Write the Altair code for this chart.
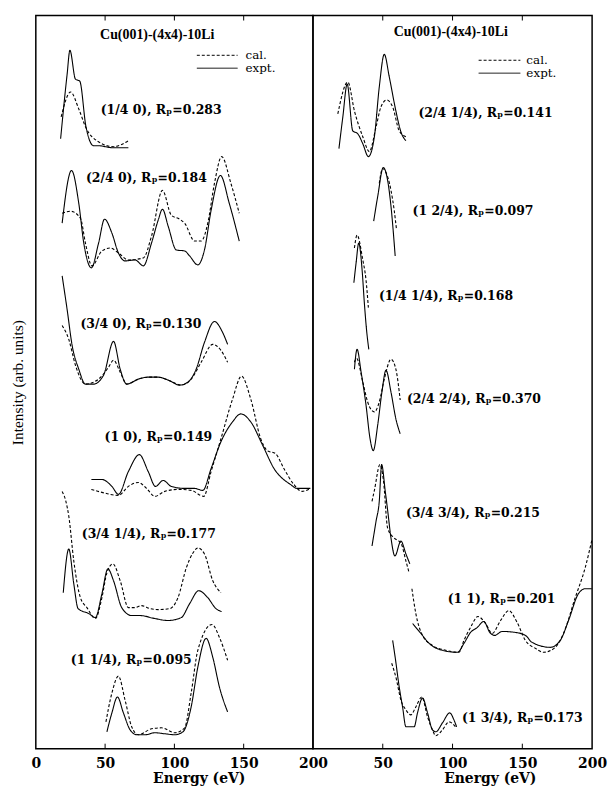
import altair as alt
import pandas as pd

# ---------------- data ----------------
# energies in eV, intensities in arbitrary units (curves offset vertically)
left_beams = ["(1/4 0)", "(2/4 0)", "(3/4 0)", "(1 0)", "(3/4 1/4)", "(1 1/4)"]
left_rp = [0.283, 0.184, 0.130, 0.149, 0.177, 0.095]
left_label_e = [46.8, 36.2, 32.2, 49.6, 33.2, 25.3]
left_label_i = [643, 574, 427, 314, 216, 89]

right_beams = ["(2/4 1/4)", "(1 2/4)", "(1/4 1/4)", "(2/4 2/4)", "(3/4 3/4)", "(1 1)", "(1 3/4)"]
right_rp = [0.141, 0.097, 0.168, 0.370, 0.215, 0.201, 0.173]
right_label_e = [75.6, 71.4, 47.3, 67.3, 66.6, 96.5, 106.7]
right_label_i = [640, 541, 456, 352, 237, 151, 31]

# ---- left panel curves ----
b14_0_expt_e = [17.9, 22.6, 24.6, 28.6, 31.7, 36.2, 41.7, 45.3, 54.9, 66.8]
b14_0_expt_i = [614, 679, 703, 674, 672, 626, 607, 607, 605, 605]
b14_0_cal_e = [18.3, 25.1, 31.0, 36.2, 40.5, 56.1, 66.8]
b14_0_cal_i = [636, 661, 644, 625, 616, 606, 612]

b24_0_expt_e = [19.0, 25.8, 31.0, 34.6, 40.1, 45.3, 49.6, 54.9, 59.6, 64.4, 71.6, 77.6, 83.5,
                88.3, 91.4, 95.5, 101.4, 107.4, 111.0, 116.9, 121.7, 126.5, 133.2, 139.6, 146.8]
b24_0_expt_i = [529, 582, 549, 509, 484, 509, 533, 519, 499, 491, 492, 486, 509,
                532, 543, 526, 502, 501, 496, 487, 502, 542, 577, 549, 511]
b24_0_cal_e = [19.0, 25.1, 32.2, 35.8, 40.5, 47.7, 53.7, 59.6, 66.8, 77.6, 83.5, 91.4, 97.8,
               103.8, 107.4, 114.6, 119.3, 124.1, 128.9, 134.1, 140.8, 146.8]
b24_0_cal_i = [539, 541, 534, 509, 486, 501, 504, 499, 492, 494, 516, 562, 537,
               533, 529, 511, 511, 529, 569, 596, 569, 539]

b34_0_expt_e = [19.0, 22.6, 26.2, 31.0, 35.8, 41.7, 48.9, 56.1, 60.9, 65.6, 74.0, 81.1, 88.3,
                95.5, 103.8, 109.8, 115.7, 121.7, 128.9, 134.8, 138.4]
b34_0_expt_i = [476, 442, 406, 382, 367, 367, 376, 410, 382, 367, 372, 374, 374,
                371, 366, 369, 382, 409, 430, 419, 407]
b34_0_cal_e = [19.0, 23.8, 28.6, 35.8, 45.3, 52.5, 56.1, 60.9, 65.6, 74.0, 81.1, 88.3, 95.5,
               105.0, 112.1, 119.3, 127.7, 133.6, 138.4]
b34_0_cal_i = [426, 412, 386, 367, 372, 384, 391, 379, 367, 372, 374, 374, 371,
               366, 372, 389, 407, 401, 389]

b10_expt_e = [40.1, 47.7, 54.9, 59.6, 66.8, 74.7, 81.1, 86.4, 91.9, 97.8, 107.4, 114.6, 120.5,
              126.5, 133.6, 142.0, 147.9, 155.1, 163.5, 171.9, 183.7, 188.5, 198.1]
b10_expt_i = [271, 271, 264, 256, 279, 296, 279, 264, 270, 264, 262, 262, 260,
              282, 309, 329, 337, 329, 306, 282, 266, 262, 262]
b10_cal_e = [40.1, 47.7, 59.6, 66.8, 74.0, 79.9, 85.9, 93.1, 102.6, 112.1, 121.2, 126.5, 133.6,
             142.0, 148.4, 155.1, 162.3, 167.1, 173.0, 179.0, 186.2, 192.1, 198.1]
b10_cal_i = [261, 258, 255, 264, 268, 262, 254, 259, 261, 260, 254, 279, 312,
             352, 375, 352, 312, 300, 297, 282, 266, 259, 262]

b34_14_expt_e = [19.8, 23.8, 27.4, 30.5, 38.2, 43.0, 47.7, 52.0, 56.1, 62.0, 69.2, 75.2, 85.9,
                 95.5, 105.0, 111.0, 117.6, 124.1, 130.0, 134.1]
b34_14_expt_i = [157, 201, 166, 141, 136, 132, 156, 181, 169, 142, 134, 134, 131,
                 129, 132, 146, 159, 152, 141, 138]
b34_14_cal_e = [19.0, 21.7, 23.8, 27.4, 32.2, 36.9, 43.0, 47.7, 51.3, 55.6, 60.9, 66.8, 71.6,
                76.3, 82.3, 88.3, 96.7, 102.6, 108.6, 113.4, 116.9, 121.7, 127.7, 133.6]
b34_14_cal_i = [259, 249, 234, 189, 152, 142, 131, 152, 177, 186, 169, 142, 142,
                144, 141, 140, 141, 152, 182, 197, 202, 196, 169, 157]

b1_14_expt_e = [51.3, 54.9, 58.9, 63.2, 68.0, 72.8, 78.8, 85.9, 93.1, 100.3, 106.2, 112.1, 116.9,
                122.9, 127.7, 132.5, 138.4]
b1_14_expt_i = [17, 36, 52, 36, 19, 14, 14, 16, 15, 14, 17, 42, 82, 111, 92, 62, 37]
b1_14_cal_e = [50.6, 54.9, 59.6, 64.4, 69.2, 74.0, 83.5, 90.7, 100.3, 107.4, 112.1, 116.9,
               127.2, 132.5, 138.4]
b1_14_cal_i = [27, 56, 73, 49, 22, 14, 20, 21, 16, 21, 56, 99, 125, 112, 89]

# ---- right panel curves ----
b24_14_expt_e = [18.6, 21.4, 24.5, 28.5, 32.1, 35.7, 39.7, 44.0, 47.5, 51.1, 54.7, 59.4, 63.0, 66.6]
b24_14_expt_i = [604, 636, 669, 622, 619, 609, 596, 616, 666, 699, 676, 642, 621, 612]
b24_14_cal_e = [17.8, 25.0, 29.7, 35.7, 40.4, 45.2, 48.7, 52.8, 57.1, 61.8, 66.6]
b24_14_cal_i = [639, 671, 642, 616, 601, 626, 646, 653, 646, 622, 616]

b1_24_expt_e = [43.5, 46.4, 50.4, 53.5, 55.9, 58.9]
b1_24_expt_i = [531, 556, 585, 572, 546, 496]
b1_24_cal_e = [47.5, 49.9, 51.5, 55.9, 58.2, 59.9]
b1_24_cal_i = [569, 584, 582, 562, 542, 522]

b14_14_expt_e = [29.3, 30.9, 32.8, 35.2, 36.8, 38.5, 40.0]
b14_14_expt_i = [469, 489, 509, 482, 449, 420, 402]
b14_14_cal_e = [29.7, 31.6, 35.7, 38.0, 39.7]
b14_14_cal_i = [504, 517, 492, 472, 444]

b24_24_expt_e = [29.7, 31.6, 34.5, 38.0, 40.9, 43.2, 46.4, 49.4, 52.3, 55.9, 59.4, 62.5]
b24_24_expt_i = [382, 402, 379, 346, 312, 300, 326, 359, 381, 359, 332, 317]
b24_24_cal_e = [29.7, 31.2, 35.7, 39.2, 44.0, 47.5, 51.1, 55.9, 59.4, 62.5]
b24_24_cal_i = [389, 393, 369, 349, 339, 349, 372, 392, 382, 351]

b34_34_expt_e = [42.3, 45.2, 47.5, 49.2, 51.8, 53.5, 55.9, 58.7, 63.0, 66.6, 69.4]
b34_34_expt_i = [204, 229, 249, 286, 259, 240, 212, 194, 209, 196, 186]
b34_34_cal_e = [42.3, 44.0, 48.0, 50.5, 53.5, 58.2, 63.0, 66.6, 68.9]
b34_34_cal_i = [249, 260, 286, 270, 222, 212, 207, 189, 177]

b11_expt_e = [71.4, 77.3, 83.2, 92.8, 103.5, 108.2, 112.9, 117.7, 122.4, 126.7, 130.1, 135.6,
              145.1, 152.2, 157.0, 170.0, 177.2, 183.1, 190.2, 195.0, 199.8]
b11_expt_i = [126, 116, 106, 99, 97, 106, 117, 122, 128, 117, 114, 118,
              117, 114, 107, 102, 109, 129, 156, 161, 161]
b11_cal_e = [70.9, 73.7, 78.5, 85.6, 95.1, 104.6, 108.2, 112.9, 118.2, 123.7, 128.4, 134.4,
             140.3, 146.3, 152.2, 159.3, 165.3, 173.6, 179.5, 187.9, 195.0, 200.0]
b11_cal_i = [161, 136, 114, 104, 99, 97, 109, 122, 133, 126, 116, 129,
             139, 127, 109, 101, 97, 102, 116, 152, 182, 211]

b1_34_expt_e = [57.1, 58.9, 61.8, 64.2, 66.6, 72.5, 74.9, 78.5, 82.1, 85.6, 88.0, 92.8, 98.0, 101.0, 102.9]
b1_34_expt_i = [109, 92, 62, 42, 22, 22, 36, 51, 36, 19, 17, 26, 36, 29, 22]
b1_34_cal_e = [56.4, 59.4, 63.0, 66.6, 70.1, 73.7, 78.0, 82.1, 85.6, 88.0, 92.8, 97.5, 102.7]
b1_34_cal_i = [86, 72, 49, 39, 34, 42, 52, 32, 19, 13, 19, 27, 21]

panel_title = "Cu(001)-(4x4)-10Li"
title_e = [87.6, 98.7]
title_i = [718, 721]
legend_kinds = ["cal.", "expt."]
legend_line_e = [(116.2, 145.6), (118.7, 148.6)]
legend_text_e = [151.3, 152.9]
legend_i = [(698, 685), (693, 680)]
tick_values = [50, 100, 150]
left_axis_labels = [0, 50, 100, 150, 200]
right_axis_labels = [50, 100, 150, 200]

# ---------------- build tables ----------------
left_curves = [
    ("(1/4 0)", b14_0_cal_e, b14_0_cal_i, b14_0_expt_e, b14_0_expt_i),
    ("(2/4 0)", b24_0_cal_e, b24_0_cal_i, b24_0_expt_e, b24_0_expt_i),
    ("(3/4 0)", b34_0_cal_e, b34_0_cal_i, b34_0_expt_e, b34_0_expt_i),
    ("(1 0)", b10_cal_e, b10_cal_i, b10_expt_e, b10_expt_i),
    ("(3/4 1/4)", b34_14_cal_e, b34_14_cal_i, b34_14_expt_e, b34_14_expt_i),
    ("(1 1/4)", b1_14_cal_e, b1_14_cal_i, b1_14_expt_e, b1_14_expt_i),
]
right_curves = [
    ("(2/4 1/4)", b24_14_cal_e, b24_14_cal_i, b24_14_expt_e, b24_14_expt_i),
    ("(1 2/4)", b1_24_cal_e, b1_24_cal_i, b1_24_expt_e, b1_24_expt_i),
    ("(1/4 1/4)", b14_14_cal_e, b14_14_cal_i, b14_14_expt_e, b14_14_expt_i),
    ("(2/4 2/4)", b24_24_cal_e, b24_24_cal_i, b24_24_expt_e, b24_24_expt_i),
    ("(3/4 3/4)", b34_34_cal_e, b34_34_cal_i, b34_34_expt_e, b34_34_expt_i),
    ("(1 1)", b11_cal_e, b11_cal_i, b11_expt_e, b11_expt_i),
    ("(1 3/4)", b1_34_cal_e, b1_34_cal_i, b1_34_expt_e, b1_34_expt_i),
]


def curve_table(curves):
    rows = []
    for beam, ce, ci, xe, xi in curves:
        for kind, es, ins in (("cal.", ce, ci), ("expt.", xe, xi)):
            for k, (e, i) in enumerate(zip(es, ins)):
                rows.append({"curve": beam + kind, "kind": kind, "E": e, "I": i, "idx": k})
    return pd.DataFrame(rows)


FONT = "DejaVu Serif"
xs = alt.Scale(domain=[0, 200], nice=False, zero=False)
ys = alt.Scale(domain=[0, 738], nice=False, zero=True)
dash = alt.StrokeDash("kind:N", scale=alt.Scale(domain=["cal.", "expt."], range=[[3, 2], [1, 0]]), legend=None)


def make_panel(curves, beams, rps, lab_e, lab_i, p, axis_labels, show_y, title_x, width):
    xaxis = alt.Axis(values=axis_labels, ticks=False, domain=False, grid=False,
                     labelFont=FONT, labelFontWeight="bold", labelFontSize=14, labelColor="black",
                     labelFlush=False, labelPadding=8, labelOverlap=False,
                     title="Energy  (eV)", titleFont=FONT, titleFontWeight="bold", titleFontSize=14,
                     titleColor="black", titlePadding=1, titleX=title_x)
    if show_y:
        yaxis = alt.Axis(labels=False, ticks=False, domain=False, grid=False,
                         title="Intensity (arb. units)", titleFont="Liberation Serif",
                         titleFontWeight="normal", titleFontSize=15.5, titleColor="black",
                         titlePadding=10)
    else:
        yaxis = None
    X = alt.X("E:Q", scale=xs, axis=xaxis)
    Y = alt.Y("I:Q", scale=ys, axis=yaxis)

    lines = alt.Chart(curve_table(curves)).mark_line(
        interpolate="monotone", color="black", strokeWidth=1.1
    ).encode(x=X, y=Y, detail="curve:N", strokeDash=dash, order="idx:Q")

    lab_df = pd.DataFrame({
        "E": lab_e, "I": lab_i,
        "txt": [f"{b}, R\u209a={r:.3f}" for b, r in zip(beams, rps)],
    })
    labels = alt.Chart(lab_df).mark_text(
        align="left", baseline="middle", font=FONT, fontWeight="bold", fontSize=12.5, color="black"
    ).encode(x=X, y=Y, text="txt:N")

    ttl = alt.Chart(pd.DataFrame({"E": [title_e[p]], "I": [title_i[p]], "txt": [panel_title]})).mark_text(
        align="center", baseline="middle", font="Liberation Serif", fontWeight="bold", fontSize=14,
        color="black"
    ).encode(x=X, y=Y, text="txt:N")

    leg_df = pd.DataFrame({
        "kind": legend_kinds,
        "E": [legend_line_e[p][0]] * 2,
        "E2": [legend_line_e[p][1]] * 2,
        "Et": [legend_text_e[p]] * 2,
        "I": list(legend_i[p]),
    })
    leg_lines = alt.Chart(leg_df).mark_rule(color="black", strokeWidth=1).encode(
        x=X, x2="E2:Q", y=Y, strokeDash=dash)
    leg_text = alt.Chart(leg_df).mark_text(
        align="left", baseline="middle", font=FONT, fontSize=12, color="black"
    ).encode(x=alt.X("Et:Q", scale=xs, axis=xaxis), y=Y, text="kind:N")

    tick_df = pd.DataFrame({
        "E": tick_values * 2,
        "I": [0] * 3 + [738] * 3,
        "I2": [5] * 3 + [733] * 3,
    })
    ticks = alt.Chart(tick_df).mark_rule(color="black", strokeWidth=1).encode(x=X, y=Y, y2="I2:Q")

    return alt.layer(lines, labels, ttl, leg_lines, leg_text, ticks).properties(width=width, height=738)


left = make_panel(left_curves, left_beams, left_rp, left_label_e, left_label_i, 0,
                  left_axis_labels, True, 164, 279)
right = make_panel(right_curves, right_beams, right_rp, right_label_e, right_label_i, 1,
                   right_axis_labels, False, 178, 281)

chart = alt.hconcat(left, right, spacing=0, bounds="flush").properties(
    padding={"left": 2, "top": 3, "right": 0, "bottom": 0},
    background="white",
).configure_view(stroke="#000000", strokeWidth=1.5, strokeOpacity=1)

chart.save("out.html", embed_options={"renderer": "svg", "actions": False})
